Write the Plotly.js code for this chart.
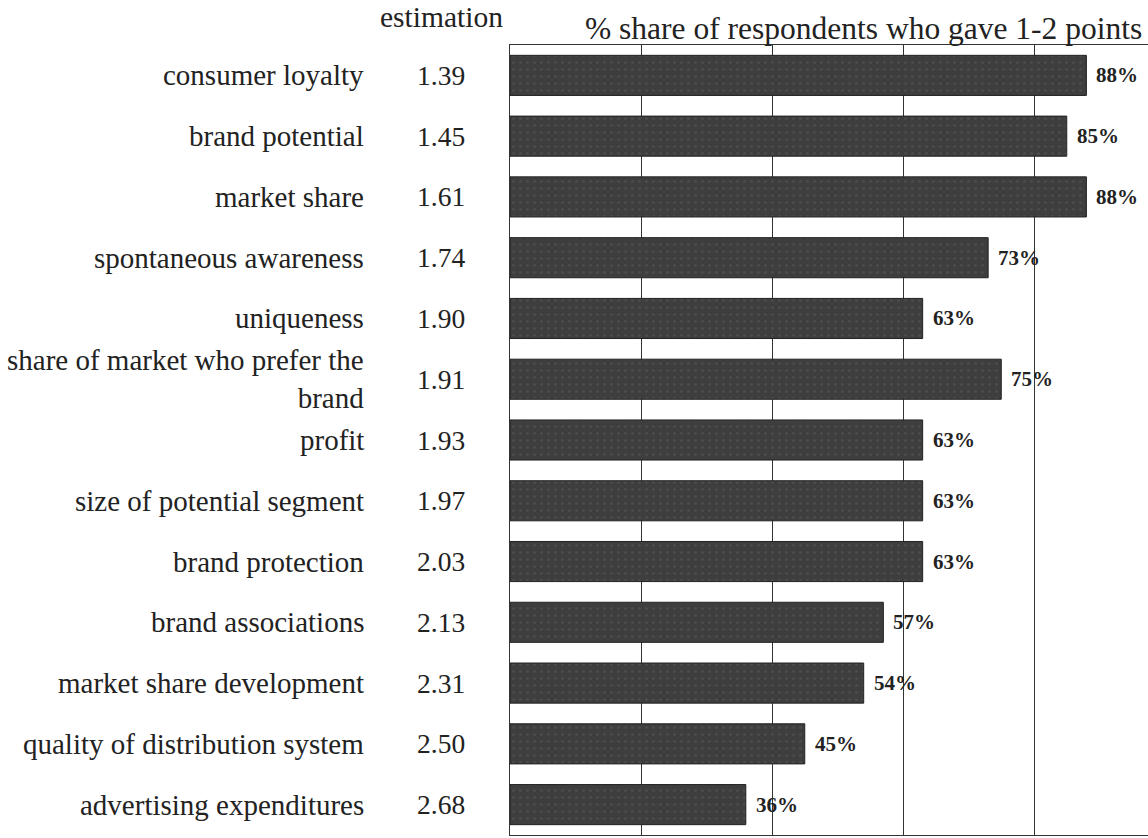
<!DOCTYPE html>
<html>
<head>
<meta charset="utf-8">
<script src="https://cdn.plot.ly/plotly-3.0.1.min.js"></script>
<style>html,body{margin:0;padding:0;background:#fff;}#chart{width:1148px;height:838px;}</style>
</head>
<body>
<div id="chart"></div>
<script>
const categories = ['consumer loyalty','brand potential','market share','spontaneous awareness','uniqueness','share of market who prefer the<br>brand','profit','size of potential segment','brand protection','brand associations','market share development','quality of distribution system','advertising expenditures'];
const estimation = ['1.39','1.45','1.61','1.74','1.90','1.91','1.93','1.97','2.03','2.13','2.31','2.50','2.68'];
const shareValues = [88,85,88,73,63,75,63,63,63,57,54,45,36];
const shareLabels = ['88%','85%','88%','73%','63%','75%','63%','63%','63%','57%','54%','45%','36%'];

const serif = '"Liberation Serif", "Times New Roman", Times, serif';
const W = 1148, L = 510, T = 45, B = 3;
const plotW = W - L;

const trace = {
  type: 'bar',
  orientation: 'h',
  y: categories,
  x: shareValues,
  marker: {
    color: '#3e3e3e',
    line: {color: '#222', width: 1},
    pattern: {shape: '.', fgcolor: '#4e4e4e', bgcolor: '#3e3e3e', size: 7, solidity: 0.12}
  },
  hoverinfo: 'skip'
};

const annotations = [];
categories.forEach((c, i) => {
  annotations.push({
    xref: 'paper', yref: 'y', x: (366 - L) / plotW, y: c,
    text: c, showarrow: false, xanchor: 'right', yanchor: 'middle', align: 'right',
    font: {family: serif, size: 29, color: '#222'}
  });
  annotations.push({
    xref: 'paper', yref: 'y', x: (441 - L) / plotW, y: c,
    text: estimation[i], showarrow: false, xanchor: 'center', yanchor: 'middle',
    font: {family: serif, size: 27.5, color: '#222'}
  });
  annotations.push({
    xref: 'x', yref: 'y', x: shareValues[i], y: c,
    text: '<b>' + shareLabels[i] + '</b>', showarrow: false, xanchor: 'left', yanchor: 'middle',
    xshift: 8,
    font: {family: serif, size: 21, color: '#222'}
  });
});
annotations.push({
  xref: 'paper', yref: 'paper', x: (441 - L) / plotW, y: (838 - B - 17) / (838 - T - B),
  text: 'estimation', showarrow: false, xanchor: 'center', yanchor: 'middle',
  font: {family: serif, size: 29.5, color: '#222'}
});
annotations.push({
  xref: 'paper', yref: 'paper', x: (863 - L) / plotW, y: (838 - B - 29) / (838 - T - B),
  text: '% share of respondents who gave 1-2 points', showarrow: false, xanchor: 'center', yanchor: 'middle',
  font: {family: serif, size: 31.5, color: '#222'}
});

const layout = {
  width: 1148, height: 838,
  margin: {l: L, r: 0, t: T, b: B, pad: 0},
  paper_bgcolor: '#fff', plot_bgcolor: '#fff',
  showlegend: false,
  bargap: 0.34,
  xaxis: {
    range: [0, plotW / 6.55], tickvals: [20, 40, 60, 80], showticklabels: false,
    showgrid: true, gridcolor: '#333', gridwidth: 1, zeroline: false,
    showline: true, mirror: true, linecolor: '#333', linewidth: 1, ticks: ''
  },
  yaxis: {
    autorange: 'reversed', showticklabels: false, showgrid: false, zeroline: false,
    showline: true, linecolor: '#333', linewidth: 1, ticks: ''
  },
  annotations: annotations
};

Plotly.newPlot('chart', [trace], layout, {displayModeBar: false, staticPlot: true});
</script>
</body>
</html>
